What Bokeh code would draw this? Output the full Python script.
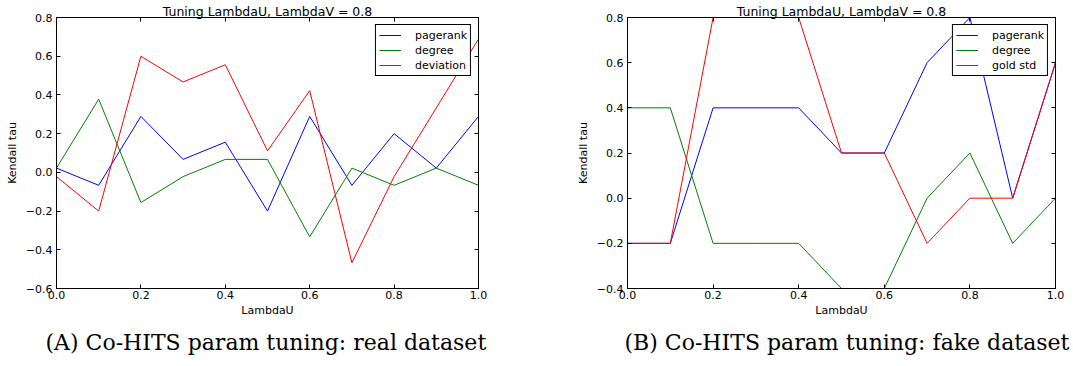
from bokeh.plotting import figure
from bokeh.models import Range1d, FixedTicker, LinearAxis, Title, ColumnDataSource
from bokeh.layouts import row
from bokeh.embed import file_html
from bokeh.resources import INLINE

# ---------------- data ----------------
lambda_u = [0.0, 0.1, 0.2, 0.3, 0.4, 0.5, 0.6, 0.7, 0.8, 0.9, 1.0]

real_pagerank = [0.022, -0.067, 0.289, 0.067, 0.156, -0.2, 0.289, -0.067, 0.2, 0.022, 0.289]
real_degree = [0.022, 0.378, -0.156, -0.022, 0.067, 0.067, -0.333, 0.022, -0.067, 0.022, -0.067]
real_deviation = [-0.022, -0.2, 0.6, 0.467, 0.556, 0.111, 0.422, -0.467, -0.022, 0.333, 0.689]

fake_pagerank = [-0.2, -0.2, 0.4, 0.4, 0.4, 0.2, 0.2, 0.6, 0.8, 0.0, 0.6]
fake_degree = [0.4, 0.4, -0.2, -0.2, -0.2, -0.4, -0.4, 0.0, 0.2, -0.2, 0.0]
fake_gold_std = [-0.2, -0.2, 0.8, 0.8, 0.8, 0.2, 0.2, -0.2, 0.0, 0.0, 0.6]

real_names = ["pagerank", "degree", "deviation"]
fake_names = ["pagerank", "degree", "gold std"]

x_ticks = [0.0, 0.2, 0.4, 0.6, 0.8, 1.0]
x_tick_labels = ["0.0", "0.2", "0.4", "0.6", "0.8", "1.0"]
real_y_ticks = [-0.6, -0.4, -0.2, 0.0, 0.2, 0.4, 0.6, 0.8]
real_y_tick_labels = ["\u22120.6", "\u22120.4", "\u22120.2", "0.0", "0.2", "0.4", "0.6", "0.8"]
fake_y_ticks = [-0.4, -0.2, 0.0, 0.2, 0.4, 0.6, 0.8]
fake_y_tick_labels = ["\u22120.4", "\u22120.2", "0.0", "0.2", "0.4", "0.6", "0.8"]

chart_title = "Tuning LambdaU, LambdaV = 0.8"
x_label = "LambdaU"
y_label = "Kendall tau"
caption_a = "(A) Co-HITS param tuning: real dataset"
caption_b = "(B) Co-HITS param tuning: fake dataset"

colors = ["#0000ff", "#008000", "#ff0000"]
FONT = "DejaVu Sans"


def make_chart(width, b_left, b_right, y_start, y_end, y_ticks, y_tick_labels,
               series, names, caption, caption_dx):
    p = figure(width=width, height=366,
               x_range=Range1d(0, 1), y_range=Range1d(y_start, y_end),
               output_backend="svg", toolbar_location=None,
               min_border_left=b_left, min_border_right=b_right,
               min_border_top=15, min_border_bottom=78)
    p.grid.visible = False
    p.outline_line_color = "black"
    p.outline_line_width = 1
    p.outline_line_alpha = 1
    p.background_fill_color = "white"
    p.border_fill_color = "white"

    xa = p.xaxis[0]
    xa.ticker = FixedTicker(ticks=x_ticks)
    xa.major_label_overrides = dict(zip(x_ticks, x_tick_labels))
    xa.axis_label = x_label
    ya = p.yaxis[0]
    ya.ticker = FixedTicker(ticks=y_ticks)
    ya.major_label_overrides = dict(zip(y_ticks, y_tick_labels))
    ya.axis_label = y_label
    for ax in (xa, ya):
        ax.major_tick_in = 4
        ax.major_tick_out = 0
        ax.minor_tick_line_color = None
        ax.axis_line_color = "black"
        ax.major_tick_line_color = "black"
        ax.major_label_text_font = FONT
        ax.major_label_text_font_size = "11px"
        ax.major_label_text_color = "black"
        ax.axis_label_text_font = FONT
        ax.axis_label_text_font_size = "11px"
        ax.axis_label_text_font_style = "normal"
        ax.axis_label_text_color = "black"
    xa.major_label_standoff = 2
    xa.axis_label_standoff = 2
    ya.major_label_standoff = 4
    ya.axis_label_standoff = 4

    # inward ticks on top (carrying the chart title as its label) and right
    top = LinearAxis(ticker=FixedTicker(ticks=x_ticks),
                     major_label_overrides={t: "" for t in x_ticks},
                     major_tick_in=4, major_tick_out=0,
                     minor_tick_line_color=None,
                     major_label_text_font_size="1px",
                     major_label_standoff=0,
                     axis_line_color="black",
                     axis_label=chart_title, axis_label_standoff=-1,
                     axis_label_text_font=FONT, axis_label_text_font_size="12.5px",
                     axis_label_text_font_style="normal", axis_label_text_color="black")
    p.add_layout(top, "above")
    right = LinearAxis(ticker=FixedTicker(ticks=y_ticks),
                       major_label_overrides={t: "" for t in y_ticks},
                       major_tick_in=4, major_tick_out=0,
                       minor_tick_line_color=None,
                       major_label_text_font_size="1px",
                       major_label_standoff=0,
                       axis_line_color="black")
    p.add_layout(right, "right")

    src = ColumnDataSource(dict(xs=[lambda_u] * len(series), ys=series,
                                color=colors, name=names))
    p.multi_line(xs="xs", ys="ys", line_color="color", line_width=1,
                 line_alpha=1, source=src, legend_field="name")

    lg = p.legend[0]
    lg.location = "top_right"
    lg.margin = 7
    lg.padding = 3
    lg.spacing = 1
    lg.glyph_width = 22
    lg.glyph_height = 14
    lg.label_height = 14
    lg.label_standoff = 14
    lg.label_text_font = FONT
    lg.label_text_font_size = "11px"
    lg.label_text_color = "black"
    lg.border_line_color = "black"
    lg.border_line_width = 1
    lg.border_line_alpha = 1
    lg.background_fill_alpha = 1

    cap = Title(text=caption, align="left", offset=caption_dx, standoff=16,
                text_font="DejaVu Serif", text_font_size="22px",
                text_font_style="normal", text_color="black")
    p.add_layout(cap, "below")
    return p


p1 = make_chart(536, 56, 58, -0.6, 0.8, real_y_ticks, real_y_tick_labels,
                [real_pagerank, real_degree, real_deviation], real_names, caption_a, -11)
p2 = make_chart(537, 91, 18, -0.4, 0.8, fake_y_ticks, fake_y_tick_labels,
                [fake_pagerank, fake_degree, fake_gold_std], fake_names, caption_b, -3)

layout = row(p1, p2)
open("out.html", "w").write(file_html(layout, INLINE))
